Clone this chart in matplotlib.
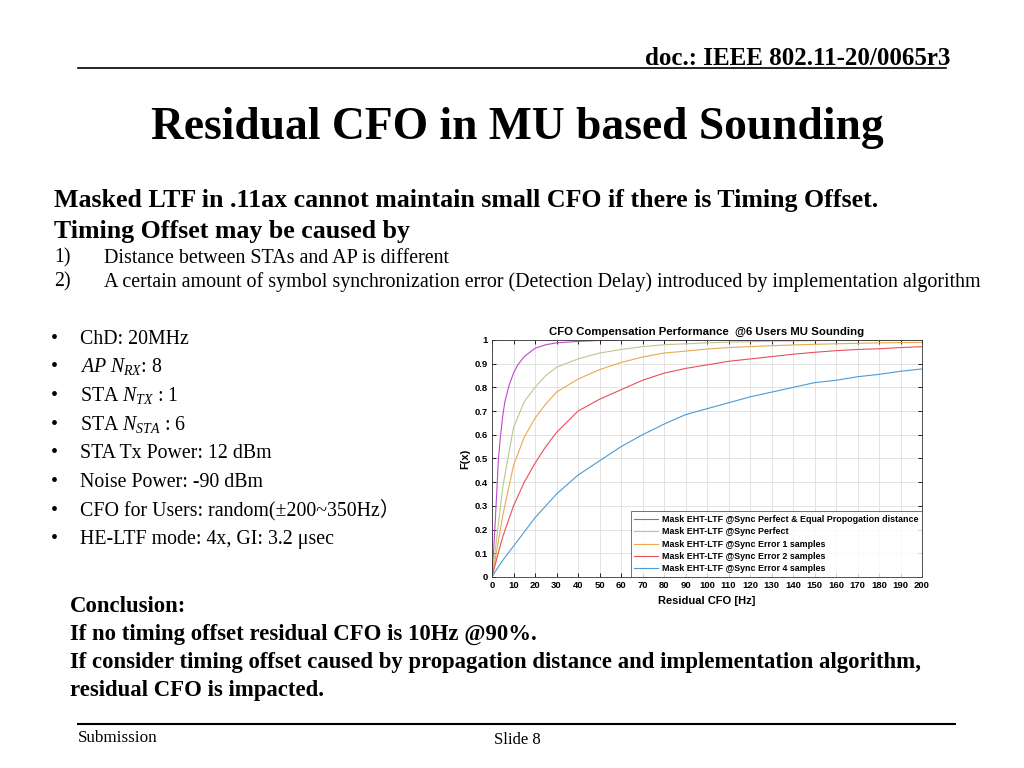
import matplotlib.pyplot as plt
import numpy as np

plt.rcParams['mathtext.fontset'] = 'custom'
plt.rcParams['mathtext.rm'] = 'Liberation Serif'
plt.rcParams['mathtext.it'] = 'Liberation Serif:italic'

# CDF curves (residual CFO in Hz vs F(x))
x_perf_eq = [0, 1, 2, 3, 4, 5, 6, 8, 10, 12, 15, 20, 25, 30, 40, 50, 60, 100, 150, 200]
y_perf_eq = [0, 0.15, 0.32, 0.5, 0.6, 0.68, 0.74, 0.81, 0.86, 0.895, 0.93, 0.965, 0.98,
             0.988, 0.994, 0.998, 1.0, 1.0, 1.0, 1.0]

x_cdf = [0, 2, 5, 10, 15, 20, 25, 30, 40, 50, 60, 70, 80, 90, 100, 110, 120, 130, 140,
         150, 160, 170, 180, 190, 200]
y_perfect = [0, 0.15, 0.38, 0.63, 0.74, 0.80, 0.85, 0.885, 0.92, 0.945, 0.96, 0.972, 0.98,
             0.984, 0.988, 0.991, 0.993, 0.995, 0.996, 0.997, 0.998, 0.998, 0.999, 0.999, 1.0]
y_err1 = [0, 0.10, 0.26, 0.47, 0.59, 0.67, 0.73, 0.78, 0.835, 0.875, 0.905, 0.928, 0.945,
          0.953, 0.962, 0.968, 0.972, 0.976, 0.979, 0.982, 0.984, 0.986, 0.988, 0.989, 0.99]
y_err2 = [0, 0.07, 0.17, 0.30, 0.40, 0.48, 0.55, 0.61, 0.70, 0.75, 0.79, 0.83, 0.86, 0.88,
          0.895, 0.91, 0.92, 0.93, 0.94, 0.948, 0.955, 0.96, 0.963, 0.968, 0.972]
y_err4 = [0, 0.03, 0.07, 0.13, 0.19, 0.25, 0.30, 0.35, 0.43, 0.49, 0.55, 0.60, 0.645,
          0.685, 0.71, 0.735, 0.76, 0.78, 0.80, 0.82, 0.83, 0.845, 0.855, 0.868, 0.878]

labels = ['Mask EHT-LTF @Sync Perfect & Equal Propogation distance',
          'Mask EHT-LTF @Sync Perfect',
          'Mask EHT-LTF @Sync Error 1 samples',
          'Mask EHT-LTF @Sync Error 2 samples',
          'Mask EHT-LTF @Sync Error 4 samples']
colors = ['#c04ac8', '#b9c98c', '#e9a94e', '#e8505a', '#4d9ad2']

W, H = 1024, 768
fig = plt.figure(figsize=(10.24, 7.68), dpi=100)


def px(x, y):
    return x / W, 1 - y / H


def text(x, y, s, size, bold=False, ha='left', family='Liberation Serif', **kw):
    # y is the visual middle of the capitals; place on the baseline
    fx, fy = px(x, y + 0.33 * size * 100 / 72)
    fig.text(fx, fy, s, fontsize=size, ha=ha, va='baseline',
             fontweight='bold' if bold else 'normal', family=family, **kw)


def hline(x0, x1, y, lw=1.2):
    fig.add_artist(plt.Line2D([x0 / W, x1 / W], [1 - y / H, 1 - y / H],
                              color='black', lw=lw, transform=fig.transFigure))


# header / footer
text(950, 57, 'doc.: IEEE 802.11-20/0065r3', 18, bold=True, ha='right')
hline(78, 946, 68)
text(517, 124, 'Residual CFO in MU based Sounding', 32.8, bold=True, ha='center')
hline(78, 955, 724, lw=1.5)
text(78, 736, 'Submission', 12.3)
text(517, 738, 'Slide 8', 12, ha='center')

# body text
text(54, 198, 'Masked LTF in .11ax cannot maintain small CFO if there is Timing Offset.', 18.6, bold=True)
text(54, 229, 'Timing Offset may be caused by', 18.6, bold=True)
text(54, 256, '1)', 14.4)
text(104, 256, 'Distance between STAs and AP is different', 14.4)
text(54, 280, '2)', 14.4)
text(104, 280, 'A certain amount of symbol synchronization error (Detection Delay) introduced by implementation algorithm', 14.4)

bullets = ['ChD: 20MHz',
           r'$\mathit{AP\ N}_{RX}$: 8',
           r'STA $N_{TX}$ : 1',
           r'STA $N_{STA}$ : 6',
           'STA Tx Power: 12 dBm',
           'Noise Power: -90 dBm',
           'CFO for Users: random(\u00b1200~350Hz\uff09',
           'HE-LTF mode: 4x, GI: 3.2 \u03bcsec']
for i, b in enumerate(bullets):
    yy = 337 + i * 28.7
    text(51, yy, '\u2022', 14.3)
    text(80, yy, b, 14.3, family=['Liberation Serif', 'Noto Sans CJK SC'])

text(70, 604, 'Conclusion:', 16.4, bold=True)
text(70, 632, 'If no timing offset residual CFO is 10Hz @90%.', 16.4, bold=True)
text(70, 660, 'If consider timing offset caused by propagation distance and implementation algorithm,', 16.4, bold=True)
text(70, 688, 'residual CFO is impacted.', 16.4, bold=True)

# chart
l, b = px(492, 577)
r, t = px(922, 340)
ax = fig.add_axes([l, b, r - l, t - b])
ax.plot(x_perf_eq, y_perf_eq, color=colors[0], lw=0.8, label=labels[0])
for yv, c, lab in zip([y_perfect, y_err1, y_err2, y_err4], colors[1:], labels[1:]):
    ax.plot(x_cdf, yv, color=c, lw=0.8, label=lab)

ax.set_xlim(0, 200)
ax.set_ylim(0, 1)
ax.set_xticks(np.arange(0, 201, 10))
ax.set_yticks(np.arange(0, 1.01, 0.1))
ax.set_yticklabels(['0'] + [f'{v:.1f}' for v in np.arange(0.1, 0.95, 0.1)] + ['1'])
ax.grid(True, color='#e3e3e3', lw=0.7)
ax.tick_params(direction='in', top=True, right=True, labelsize=6.8, length=3, width=0.6, pad=3)
for lab in ax.get_xticklabels() + ax.get_yticklabels():
    lab.set_fontweight('bold')
    lab.set_family('Liberation Sans')
for s in ax.spines.values():
    s.set_linewidth(0.6)
    s.set_color('#333333')
ax.set_title('CFO Compensation Performance  @6 Users MU Sounding', fontsize=8.2,
             fontweight='bold', family='Liberation Sans', pad=4)
ax.set_xlabel('Residual CFO [Hz]', fontsize=8, fontweight='bold', family='Liberation Sans', labelpad=4)
ax.set_ylabel('F(x)', fontsize=8, fontweight='bold', family='Liberation Sans', labelpad=3)
leg = ax.legend(loc='lower right', borderaxespad=0, fancybox=False, edgecolor='#333333',
                prop={'family': 'Liberation Sans', 'weight': 'bold', 'size': 6.4},
                handlelength=2.6, labelspacing=0.38, borderpad=0.4, handletextpad=0.5)
leg.get_frame().set_linewidth(0.6)

plt.savefig('out.png', dpi=100)
